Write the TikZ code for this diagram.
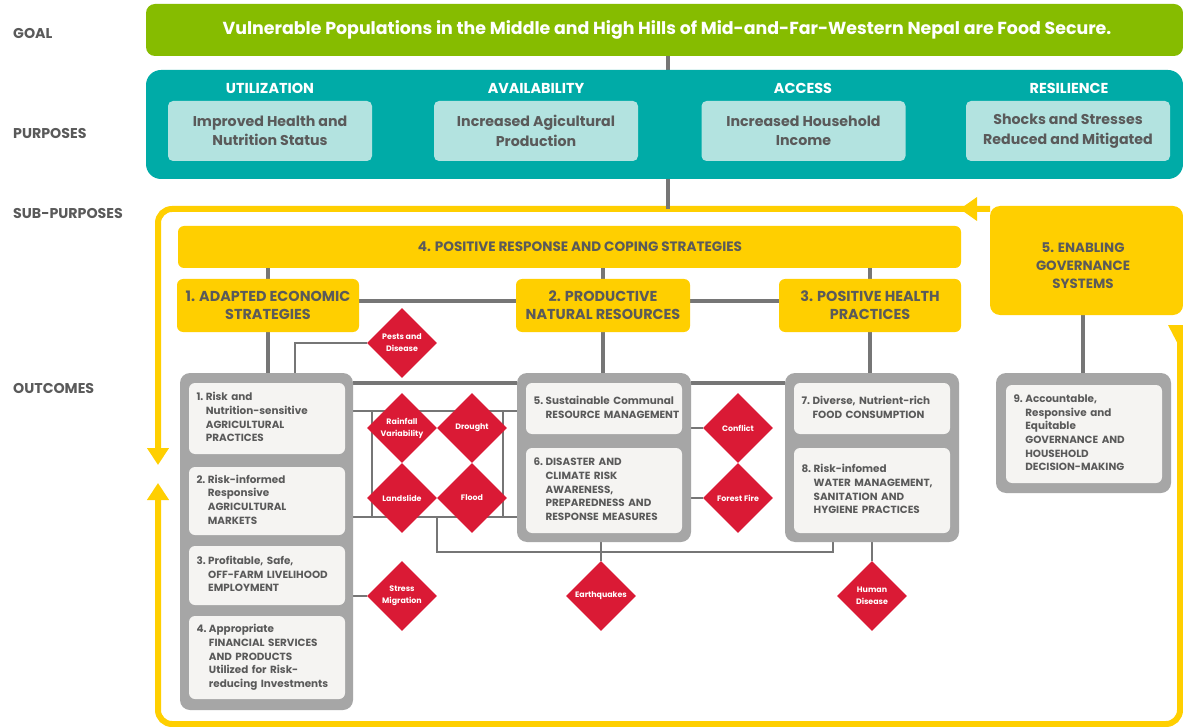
\documentclass[tikz,border=0pt]{standalone}
\usepackage{fontspec}
\setmainfont{Poppins}
\usetikzlibrary{shapes.geometric,arrows.meta}
\definecolor{cGoal}{HTML}{86BC00}
\definecolor{cTeal}{HTML}{00ABA7}
\definecolor{cLight}{HTML}{B3E3E0}
\definecolor{cYel}{HTML}{FFCF00}
\definecolor{cGrp}{HTML}{A6A6A6}
\definecolor{cIn}{HTML}{F5F4F2}
\definecolor{cRisk}{HTML}{DA1A35}
\definecolor{cTxt}{HTML}{5A5A5A}
\definecolor{cLine}{HTML}{767676}
\newcommand\otxt[2]{\begin{tabular}{@{}l@{\hspace{2.5pt}}l@{}}#1&#2\end{tabular}}
\pgfdeclarelayer{back}
\pgfdeclarelayer{bg}
\pgfsetlayers{back,bg,main}
\begin{document}
\begin{tikzpicture}[x=1pt,y=-1pt,
 lbl/.style={anchor=west,inner sep=0pt,text=cTxt,font=\bfseries\fontsize{14.2}{16}\selectfont},
 goalbar/.style={fill=cGoal,rounded corners=9pt,inner sep=0pt,text=white,font=\bfseries\fontsize{17.4}{20}\selectfont},
 purpbar/.style={fill=cTeal,rounded corners=15pt,inner sep=0pt},
 phdr/.style={inner sep=0pt,text=white,font=\bfseries\fontsize{14.4}{16}\selectfont},
 pbox/.style={fill=cLight,rounded corners=5pt,inner sep=0pt,minimum width=204pt,minimum height=60pt,align=center,text=cTxt,font=\bfseries\fontsize{14.2}{19.5}\selectfont},
 ybox/.style={fill=cYel,rounded corners=6pt,inner sep=0pt,align=center,text=cTxt,font=\bfseries\fontsize{14.4}{18}\selectfont},
 grp/.style={fill=cGrp,rounded corners=10pt,inner sep=0pt},
 obox/.style={fill=cIn,rounded corners=6pt,inner xsep=7.5pt,inner ysep=0pt,text width=141pt,align=left,text=cTxt,font=\bfseries\fontsize{10.4}{13.7}\selectfont},
 risk/.style={diamond,aspect=1,fill=cRisk,inner sep=0pt,minimum size=70pt,align=center,text=white,font=\bfseries\fontsize{7.9}{12}\selectfont},
 conn/.style={draw=cLine,line width=4pt},
 tconn/.style={draw=cLine,line width=2.5pt},
 loopline/.style={draw=cYel,line width=6pt,rounded corners=14pt},
 looptip/.style={-{Triangle[length=17pt,width=21pt]}},
]
\useasboundingbox (0,0) rectangle (1183,727);
\clip (0,0) rectangle (1183,727);
\begin{pgfonlayer}{back}
\fill[white] (0,0) rectangle (1183,727);
\end{pgfonlayer}

% left labels
\node[lbl] (lgoal) at (13,33) {GOAL};
\node[lbl] (lpurp) at (13,133) {PURPOSES};
\node[lbl] (lsub) at (13,213) {SUB-PURPOSES};
\node[lbl] (lout) at (13,388) {OUTCOMES};

% goal
\node[goalbar,minimum width=1037pt,minimum height=52pt] (goal) at (664.5,30)
  {\hspace*{5pt}Vulnerable Populations in the Middle and High Hills of Mid-and-Far-Western Nepal are Food Secure.};

% purposes
\node[purpbar,minimum width=1037pt,minimum height=109pt] (purp) at (664.5,124.5) {};
\node[phdr] (hU) at (270,88) {UTILIZATION};
\node[phdr] (hAv) at (536,88) {AVAILABILITY};
\node[phdr] (hAc) at (803,88) {ACCESS};
\node[phdr] (hR) at (1069,88) {RESILIENCE};
\node[pbox] (pU) at (270,131) {Improved Health and\\Nutrition Status};
\node[pbox] (pAv) at (536,131) {Increased Agicultural\\Production};
\node[pbox] (pAc) at (803.5,131) {Increased Household\\Income};
\node[pbox] (pR) at (1068,131) {Shocks and Stresses\\Reduced and Mitigated};

\coordinate (ltop) at (668,209);

% yellow loop
\begin{pgfonlayer}{bg}
\draw[loopline,looptip,draw=cYel] (990,209) -- (158,209) -- (158,465);
\draw[loopline,looptip,draw=cYel] (1180,330) -- (1180,724) -- (158,724) -- (158,483);
\fill[cYel] (960,209) -- (977,197) -- (977,221) -- cycle;
\fill[cYel] (1168,325) -- (1194,325) -- (1181,350) -- cycle;
\end{pgfonlayer}
\node[fill=cYel,rounded corners=10pt,inner sep=0pt,minimum width=193pt,minimum height=109pt] (g5) at (1086.5,260.5) {};
\node[ybox,fill=none,font=\bfseries\fontsize{13.4}{18}\selectfont] (g5t) at (1083,266) {5. ENABLING\\GOVERNANCE\\SYSTEMS};

% sub-purposes
\node[ybox,minimum width=783pt,minimum height=42pt,font=\bfseries\fontsize{13.6}{16}\selectfont] (y4) at (569.5,247)
  {\hspace*{21pt}4. POSITIVE RESPONSE AND COPING STRATEGIES};
\node[ybox,minimum width=182pt,minimum height=53pt] (y1) at (268,305.5) {1. ADAPTED ECONOMIC\\STRATEGIES};
\node[ybox,minimum width=174pt,minimum height=53pt] (y2) at (603,305.5) {2. PRODUCTIVE\\NATURAL RESOURCES};
\node[ybox,minimum width=182pt,minimum height=53pt] (y3) at (870,305.5) {3. POSITIVE HEALTH\\PRACTICES};

% outcome groups
\node[grp,minimum width=173pt,minimum height=337pt] (gA) at (266.5,541.5) {};
\node[grp,minimum width=174pt,minimum height=169pt] (gB) at (604,457.5) {};
\node[grp,minimum width=174pt,minimum height=169pt] (gC) at (872,457.5) {};
\node[grp,minimum width=175pt,minimum height=120pt] (gD) at (1083.5,433) {};

\node[obox,minimum height=71pt] (o1) at (267,418.5) {\otxt{1.}{Risk and\\&Nutrition-sensitive\\&AGRICULTURAL\\&PRACTICES}};
\node[obox,minimum height=68pt] (o2) at (267,501) {\otxt{2.}{Risk-informed\\&Responsive\\&AGRICULTURAL\\&MARKETS}};
\node[obox,minimum height=59pt] (o3) at (267,575.5) {\otxt{3.}{Profitable, Safe,\\&OFF-FARM LIVELIHOOD\\&EMPLOYMENT}};
\node[obox,minimum height=83pt] (o4) at (267,657.5) {\otxt{4.}{Appropriate\\&FINANCIAL SERVICES\\&AND PRODUCTS\\&Utilized for Risk-\\&reducing Investments}};
\node[obox,minimum height=51pt] (o5) at (604,408.5) {\otxt{5.}{Sustainable Communal\\&RESOURCE MANAGEMENT}};
\node[obox,minimum height=85pt] (o6) at (604,490.5) {\otxt{6.}{DISASTER AND\\&CLIMATE RISK\\&AWARENESS,\\&PREPAREDNESS AND\\&RESPONSE MEASURES}};
\node[obox,minimum height=51pt] (o7) at (872,408.5) {\otxt{7.}{Diverse, Nutrient-rich\\&FOOD CONSUMPTION}};
\node[obox,minimum height=85pt] (o8) at (872,490.5) {\otxt{8.}{Risk-infomed\\&WATER MANAGEMENT,\\&SANITATION AND\\&HYGIENE PRACTICES}};
\node[obox,minimum height=98pt] (o9) at (1084,434) {\otxt{9.}{Accountable,\\&Responsive and\\&Equitable\\&GOVERNANCE AND\\&HOUSEHOLD\\&DECISION-MAKING}};

% risks
\node[risk] (pests) at (402,343) {Pests and\\Disease};
\node[risk] (rain) at (402,428) {Rainfall\\Variability};
\node[risk] (drought) at (472,428) {Drought};
\node[risk] (land) at (402,498) {Landslide};
\node[risk] (flood) at (472,498) {Flood};
\node[risk] (conflict) at (738,428) {Conflict};
\node[risk] (fire) at (738,498) {Forest Fire};
\node[risk] (stress) at (402,596) {Stress\\Migration};
\node[risk] (quake) at (601,596) {Earthquakes};
\node[risk] (human) at (872,596) {Human\\Disease};

\coordinate (fTL) at (372,411);
\coordinate (fTR) at (503,411);
\coordinate (fBL) at (372,517);
\coordinate (fBR) at (503,517);
\coordinate (fBM) at (437,517);
\coordinate (fLow) at (437,552);

\begin{pgfonlayer}{bg}
\draw[conn] (goal.south -| ltop) -- (purp.north -| ltop);
\draw[conn] (purp.south -| ltop) -- (ltop);
\draw[conn] (y4.south -| y1) -- (y1.north);
\draw[conn] (y4.south -| y2) -- (y2.north);
\draw[conn] (y4.south -| y3) -- (y3.north);
\draw[conn] ([yshift=4pt]y1.east) -- ([yshift=4pt]y2.west);
\draw[conn] ([yshift=4pt]y2.east) -- ([yshift=4pt]y3.west);
\draw[conn] (y1.south) -- (gA.north -| y1.south);
\draw[conn] (y2.south) -- (gB.north -| y2.south);
\draw[conn] (y3.south) -- (gC.north -| y3.south);
\draw[conn] (g5.south -| g5t) -- (gD.north -| g5t);
\draw[conn] ([yshift=-10pt]gA.north east) -- ([yshift=-10pt]gB.north west);
\draw[conn] ([yshift=-10pt]gB.north east) -- ([yshift=-10pt]gC.north west);
\draw[tconn] (pests.west) -| ([xshift=28.5pt]gA.north);
\draw[tconn] (gA.east |- fTL) -- (gB.west |- fTL);
\draw[tconn] (gA.east |- fBL) -- (gB.west |- fBL);
\draw[tconn] (fTL) -- (fBL);
\draw[tconn] (fTR) -- (fBR);
\draw[tconn] (fBM) -- (fLow) -| ([xshift=-39pt]gC.south);
\draw[tconn] (o5.east |- conflict) -- (conflict.west);
\draw[tconn] (o6.east |- fire) -- (fire.west);
\draw[tconn] (gA.east |- stress) -- (stress.west);
\draw[tconn] (gB.south -| quake) -- (quake.north);
\draw[tconn] (gC.south -| human) -- (human.north);
\end{pgfonlayer}
\end{tikzpicture}
\end{document}
